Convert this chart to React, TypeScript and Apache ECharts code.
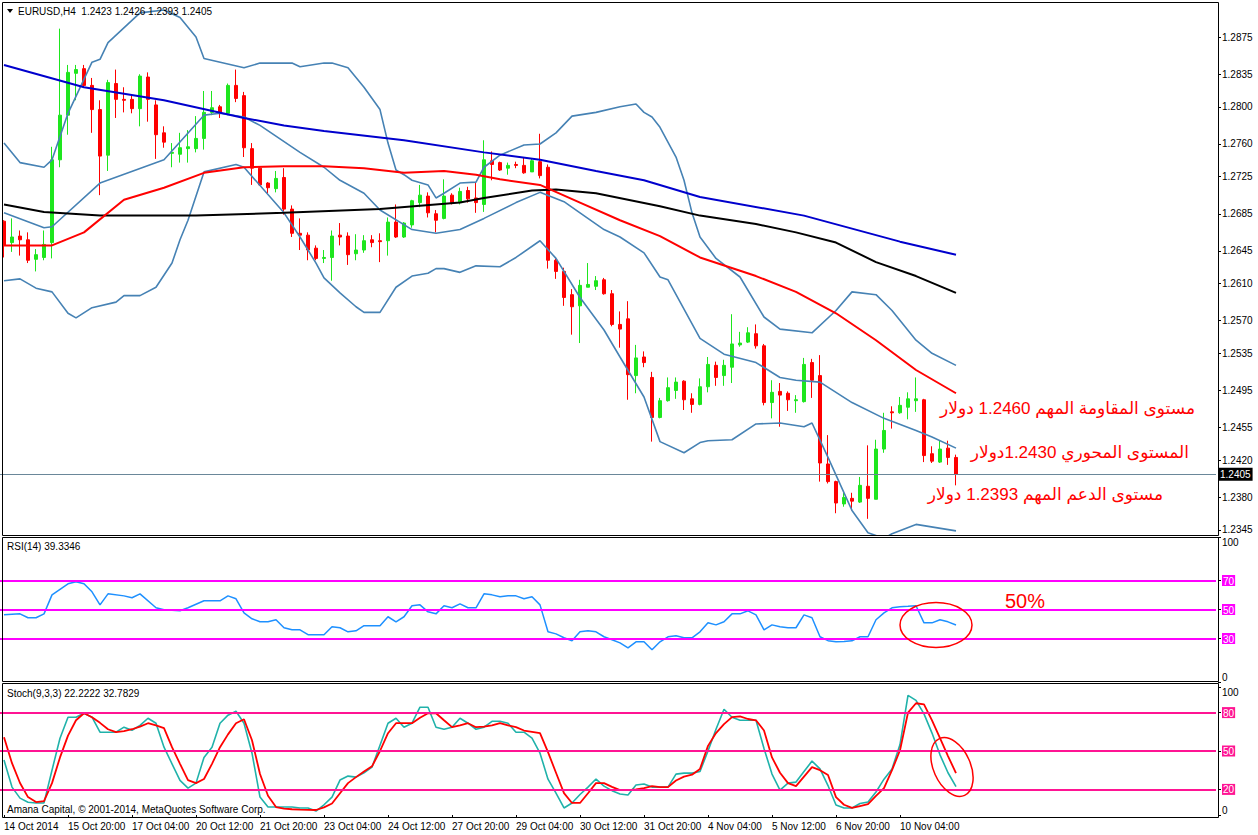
import React, { useEffect, useRef } from "react";
import * as echarts from "echarts";

const FONT = '"Liberation Sans", "DejaVu Sans", Arial, sans-serif';

const symbolTitle = "EURUSD,H4  1.2423 1.2426 1.2393 1.2405";
const rsiTitle = "RSI(14) 39.3346";
const stochTitle = "Stoch(9,3,3) 22.2222 32.7829";
const copyright = "Amana Capital, \u00a9 2001-2014, MetaQuotes Software Corp.";

const totalSlots = 152;
const barSlots = Array.from({ length: totalSlots }, (_, i) => String(i));
const xTickLabels = [
  "14 Oct 2014", "15 Oct 20:00", "17 Oct 04:00", "20 Oct 12:00", "21 Oct 20:00",
  "23 Oct 04:00", "24 Oct 12:00", "27 Oct 20:00", "29 Oct 04:00", "30 Oct 12:00",
  "31 Oct 20:00", "4 Nov 04:00", "5 Nov 12:00", "6 Nov 20:00", "10 Nov 04:00",
];
const priceTicks = [1.2875, 1.2835, 1.28, 1.276, 1.2725, 1.2685, 1.2645, 1.261, 1.257, 1.2535, 1.2495, 1.2455, 1.242, 1.238, 1.2345];
const rsiTicks = [0, 30, 50, 70, 100];
const rsiLevels = [30, 50, 70];
const stochTicks = [0, 20, 50, 80, 100];
const stochLevels = [20, 50, 80];
const lastPrice = 1.2405;

const annotations = [
  "\u0645\u0633\u062a\u0648\u0649 \u0627\u0644\u0645\u0642\u0627\u0648\u0645\u0629 \u0627\u0644\u0645\u0647\u0645 1.2460 \u062f\u0648\u0644\u0627\u0631",
  "\u0627\u0644\u0645\u0633\u062a\u0648\u0649 \u0627\u0644\u0645\u062d\u0648\u0631\u064a 1.2430\u062f\u0648\u0644\u0627\u0631",
  "\u0645\u0633\u062a\u0648\u0649 \u0627\u0644\u062f\u0639\u0645 \u0627\u0644\u0645\u0647\u0645 1.2393 \u062f\u0648\u0644\u0627\u0631",
];
const rsiNote = "50%";

// [open, close, low, high]
const candles = [
  [1.2677, 1.2651, 1.2638, 1.2678], [1.2654, 1.266, 1.2644, 1.268], [1.2661, 1.2657, 1.264, 1.2667],
  [1.2657, 1.2635, 1.2632, 1.2665], [1.2636, 1.2641, 1.2623, 1.2647], [1.2638, 1.2652, 1.2635, 1.2667],
  [1.2654, 1.2743, 1.2637, 1.2757], [1.2743, 1.2791, 1.2735, 1.2884], [1.2791, 1.2837, 1.277, 1.2845],
  [1.2836, 1.284, 1.2807, 1.2845], [1.2841, 1.2823, 1.2821, 1.2845], [1.2823, 1.2797, 1.2772, 1.2831],
  [1.2797, 1.2747, 1.2705, 1.2807], [1.2748, 1.2826, 1.2731, 1.2829], [1.2825, 1.2808, 1.2788, 1.284],
  [1.2808, 1.2807, 1.2794, 1.2821], [1.2808, 1.2798, 1.2793, 1.2813], [1.2798, 1.2833, 1.2779, 1.2835],
  [1.2832, 1.2808, 1.2784, 1.2837], [1.2802, 1.277, 1.2744, 1.2807], [1.2772, 1.2762, 1.2756, 1.2779],
  [1.275, 1.2751, 1.2735, 1.2761], [1.2749, 1.2756, 1.274, 1.2772], [1.2755, 1.2757, 1.274, 1.2775],
  [1.2755, 1.2766, 1.2751, 1.279], [1.2766, 1.2794, 1.2754, 1.2817], [1.2794, 1.2799, 1.2791, 1.2817],
  [1.28, 1.2794, 1.2788, 1.2802], [1.2793, 1.2823, 1.2791, 1.2825], [1.2823, 1.2809, 1.2805, 1.284],
  [1.2812, 1.2756, 1.2746, 1.2816], [1.2755, 1.2734, 1.2716, 1.2761], [1.2734, 1.2716, 1.2715, 1.2735],
  [1.2718, 1.2713, 1.2707, 1.2719], [1.2712, 1.2723, 1.2708, 1.2731], [1.2724, 1.269, 1.2684, 1.2734],
  [1.269, 1.2664, 1.266, 1.2694], [1.2664, 1.2662, 1.2646, 1.268], [1.2662, 1.2646, 1.2635, 1.2665],
  [1.2648, 1.2637, 1.2635, 1.2651], [1.2637, 1.2638, 1.2632, 1.2646], [1.2638, 1.2661, 1.2613, 1.2667],
  [1.2662, 1.266, 1.2651, 1.2675], [1.2661, 1.2641, 1.263, 1.2665], [1.2642, 1.2646, 1.2635, 1.2663],
  [1.2646, 1.2656, 1.2643, 1.2662], [1.2657, 1.2654, 1.2649, 1.2662], [1.2656, 1.2655, 1.2633, 1.2664],
  [1.2656, 1.2676, 1.264, 1.2681], [1.2676, 1.266, 1.2659, 1.2695], [1.266, 1.2675, 1.2659, 1.2676],
  [1.2673, 1.2699, 1.267, 1.27], [1.2697, 1.2705, 1.2692, 1.2716], [1.2704, 1.2686, 1.2681, 1.2708],
  [1.2685, 1.2678, 1.2665, 1.2689], [1.268, 1.2704, 1.2679, 1.2722], [1.2705, 1.2697, 1.2695, 1.2707],
  [1.2697, 1.2709, 1.2695, 1.2713], [1.271, 1.2701, 1.2697, 1.2714], [1.2702, 1.2697, 1.2686, 1.2719],
  [1.2695, 1.2743, 1.2687, 1.2764], [1.2742, 1.2738, 1.2721, 1.2752], [1.274, 1.2732, 1.2731, 1.2741],
  [1.2734, 1.2737, 1.2727, 1.274], [1.2738, 1.2737, 1.2734, 1.2741], [1.2737, 1.2729, 1.2728, 1.2746],
  [1.273, 1.2742, 1.273, 1.2744], [1.2741, 1.2726, 1.2723, 1.2771], [1.2735, 1.2635, 1.2626, 1.2738],
  [1.2635, 1.2623, 1.2615, 1.2637], [1.2623, 1.2595, 1.2586, 1.2627], [1.2598, 1.2585, 1.2555, 1.2604],
  [1.2586, 1.2608, 1.2546, 1.2614], [1.2606, 1.2609, 1.2606, 1.2632], [1.2607, 1.2613, 1.2603, 1.2618],
  [1.2614, 1.2599, 1.2598, 1.2616], [1.2599, 1.2566, 1.2564, 1.2603], [1.2566, 1.2561, 1.2541, 1.258],
  [1.2572, 1.2512, 1.2485, 1.2591], [1.2511, 1.253, 1.2492, 1.2544], [1.2531, 1.2525, 1.252, 1.2537],
  [1.2509, 1.2466, 1.244, 1.2515], [1.2466, 1.2484, 1.2465, 1.2487], [1.2484, 1.2498, 1.2483, 1.2509],
  [1.2495, 1.2504, 1.2486, 1.2509], [1.2505, 1.2485, 1.2474, 1.2506], [1.2486, 1.248, 1.2471, 1.2492],
  [1.248, 1.2499, 1.2479, 1.2508], [1.2499, 1.2523, 1.2493, 1.2531], [1.2522, 1.2509, 1.25, 1.2526],
  [1.2511, 1.2522, 1.25, 1.2528], [1.252, 1.2545, 1.2503, 1.2577], [1.2544, 1.2546, 1.2542, 1.2558],
  [1.2547, 1.2557, 1.2546, 1.2563], [1.2556, 1.2543, 1.254, 1.2566], [1.2543, 1.2482, 1.2479, 1.2545],
  [1.2482, 1.2493, 1.2465, 1.2506], [1.2494, 1.249, 1.2456, 1.2503], [1.2492, 1.2485, 1.2473, 1.2494],
  [1.2484, 1.2485, 1.2471, 1.249], [1.2483, 1.2523, 1.2482, 1.253], [1.2525, 1.2506, 1.2487, 1.2529],
  [1.2511, 1.2417, 1.2397, 1.2533], [1.2416, 1.2397, 1.2395, 1.2447], [1.2397, 1.2374, 1.2363, 1.2398],
  [1.2373, 1.238, 1.237, 1.2385], [1.2379, 1.2376, 1.2366, 1.2385], [1.2375, 1.2393, 1.2374, 1.2402],
  [1.2392, 1.2379, 1.2357, 1.2436], [1.2378, 1.2432, 1.2378, 1.2442], [1.2432, 1.2452, 1.2428, 1.2471],
  [1.2472, 1.2471, 1.2454, 1.2478], [1.2471, 1.2479, 1.247, 1.2488], [1.2477, 1.2486, 1.2464, 1.2493],
  [1.2484, 1.2486, 1.2472, 1.2509], [1.2485, 1.2425, 1.2418, 1.2486], [1.2427, 1.2419, 1.2417, 1.2435],
  [1.2418, 1.2432, 1.2417, 1.2441], [1.2433, 1.2423, 1.2415, 1.2441], [1.2423, 1.2405, 1.2393, 1.2426],
];

// [bar, value] readings of the indicator lines
const maBlue = [[0, 1.2845], [10, 1.2821], [20, 1.2807], [30, 1.2788], [35, 1.278], [40, 1.2774], [50, 1.2764], [60, 1.2751], [67, 1.2743], [74, 1.2731], [80, 1.2721], [87, 1.2703], [100, 1.2683], [112, 1.2655], [119, 1.2641]];
const maBlack = [[0, 1.2695], [5, 1.2687], [12, 1.2683], [24, 1.2683], [35, 1.2686], [47, 1.269], [57, 1.2697], [60, 1.2702], [66, 1.271], [69, 1.2711], [74, 1.2707], [82, 1.2693], [87, 1.2683], [94, 1.2674], [99, 1.2665], [104, 1.2654], [109, 1.2633], [114, 1.2618], [119, 1.26]];
const maRed = [[0, 1.2651], [6, 1.2651], [10, 1.2665], [15, 1.27], [20, 1.2713], [25, 1.2729], [30, 1.2735], [35, 1.2736], [40, 1.2736], [45, 1.2734], [50, 1.2729], [55, 1.2731], [59, 1.2727], [62, 1.2722], [67, 1.2716], [72, 1.2697], [77, 1.2678], [82, 1.2661], [87, 1.2638], [94, 1.2618], [99, 1.2601], [104, 1.2578], [109, 1.2549], [114, 1.2517], [119, 1.2492]];
const bbUpper = [[0, 1.2761], [2, 1.274], [5, 1.2735], [6, 1.2743], [8, 1.2793], [11, 1.2848], [12, 1.2851], [13, 1.2869], [17, 1.2901], [20, 1.2904], [22, 1.2896], [24, 1.2875], [25, 1.2852], [30, 1.2842], [32, 1.2847], [36, 1.2847], [37, 1.2843], [40, 1.2847], [41, 1.2847], [43, 1.2842], [45, 1.2821], [47, 1.2797], [48, 1.2761], [49, 1.2732], [50, 1.2727], [51, 1.2721], [53, 1.2716], [54, 1.2702], [55, 1.2707], [57, 1.2718], [59, 1.2719], [60, 1.2735], [62, 1.2748], [65, 1.2759], [67, 1.276], [69, 1.2772], [71, 1.279], [74, 1.2794], [77, 1.28], [79, 1.2803], [80, 1.2794], [81, 1.2789], [82, 1.2778], [84, 1.2746], [85, 1.2721], [86, 1.2686], [87, 1.266], [89, 1.2637], [92, 1.2617], [95, 1.2574], [97, 1.2561], [101, 1.2557], [104, 1.2581], [106, 1.2601], [109, 1.2598], [111, 1.2581], [114, 1.2549], [116, 1.2535], [119, 1.2522]];
const bbMiddle = [[0, 1.2686], [5, 1.267], [6, 1.2671], [12, 1.2718], [20, 1.2743], [25, 1.2791], [27, 1.2793], [30, 1.2789], [32, 1.278], [37, 1.2751], [40, 1.2735], [42, 1.2721], [45, 1.2707], [47, 1.2689], [51, 1.2668], [54, 1.2664], [57, 1.2668], [60, 1.268], [64, 1.2697], [67, 1.2708], [70, 1.2698], [72, 1.2686], [75, 1.2668], [77, 1.266], [80, 1.2643], [82, 1.2617], [83, 1.2614], [87, 1.2551], [90, 1.2534], [94, 1.2525], [97, 1.2509], [99, 1.2506], [102, 1.2504], [106, 1.2482], [110, 1.2465], [114, 1.2452], [116, 1.2445], [119, 1.2433]];
const bbLower = [[0, 1.2613], [2, 1.2615], [4, 1.2605], [6, 1.2601], [8, 1.2578], [9, 1.2573], [11, 1.2584], [14, 1.259], [15, 1.2597], [17, 1.2597], [19, 1.2606], [21, 1.2632], [22, 1.2657], [23, 1.2678], [25, 1.273], [29, 1.2738], [30, 1.2735], [35, 1.2686], [37, 1.266], [39, 1.2632], [40, 1.2616], [42, 1.26], [44, 1.2585], [45, 1.2579], [47, 1.2579], [49, 1.2606], [51, 1.2618], [53, 1.2621], [54, 1.2626], [55, 1.2626], [57, 1.2622], [59, 1.2629], [62, 1.2628], [64, 1.2638], [67, 1.2656], [69, 1.2637], [72, 1.2595], [75, 1.256], [77, 1.2531], [80, 1.2488], [82, 1.244], [85, 1.2428], [87, 1.2439], [88, 1.2441], [91, 1.2442], [94, 1.2459], [97, 1.246], [100, 1.2456], [101, 1.246], [103, 1.2423], [106, 1.2366], [108, 1.2342], [110, 1.2336], [111, 1.2341], [114, 1.2351], [119, 1.2344]];

const rsi = [[0, 46.3], [2, 47], [3, 44.3], [4, 44.3], [5, 47], [6, 60.1], [8, 67.7], [9, 69.1], [10, 67.7], [11, 62.2], [12, 53.2], [13, 60.8], [15, 59.4], [16, 58.1], [17, 60.8], [19, 51.2], [20, 49.8], [22, 49.1], [23, 51.2], [25, 56], [27, 56], [28, 59.4], [29, 57.4], [30, 47.7], [31, 43.6], [32, 41.5], [33, 41.5], [34, 42.9], [35, 37.4], [36, 36], [37, 36], [38, 32.6], [40, 32.6], [41, 38.1], [42, 37.4], [43, 34.6], [44, 35.3], [45, 38.8], [47, 38.8], [48, 45], [49, 41.5], [50, 45], [51, 52.6], [52, 53.2], [53, 48.4], [54, 47], [55, 52.6], [56, 51.2], [57, 53.9], [58, 51.2], [59, 51.2], [60, 60.8], [61, 60.1], [62, 58.8], [63, 59.4], [64, 59.4], [65, 57.4], [66, 58.8], [67, 53.2], [68, 34.6], [69, 33.2], [70, 30.5], [71, 28.4], [72, 34.6], [73, 35.3], [74, 34.6], [75, 31.2], [76, 29.1], [77, 27], [78, 23.6], [79, 27.7], [80, 27.7], [81, 22.2], [82, 27.7], [83, 31.2], [84, 31.9], [85, 30.5], [86, 30.5], [87, 34.6], [88, 40.8], [89, 39.4], [90, 41.5], [91, 47], [92, 47], [93, 49.1], [94, 46.3], [95, 36], [96, 39.4], [97, 38.1], [98, 37.4], [99, 37.4], [100, 46.3], [101, 44.3], [102, 31.2], [103, 28.5], [104, 27.7], [105, 28], [106, 28.4], [107, 31.2], [108, 31.2], [109, 42.9], [110, 47.7], [111, 51.2], [112, 51.9], [113, 52.2], [114, 52.6], [115, 40.8], [116, 40.8], [117, 42.9], [118, 41.5], [119, 39.3346]];

const stochK = [[0, 42.9], [1, 21.8], [2, 13.2], [3, 10], [4, 9.4], [5, 9.5], [6, 35], [7, 60], [8, 76.4], [9, 76.4], [10, 79.5], [11, 76.4], [12, 64.7], [13, 64.7], [14, 64.7], [15, 68.6], [16, 66.2], [17, 70], [18, 75.6], [19, 71.7], [20, 53], [21, 40], [22, 27], [23, 21], [24, 24.9], [25, 45], [26, 53], [27, 71.7], [28, 78], [29, 81], [30, 71.7], [31, 48.3], [32, 14], [33, 6.2], [34, 6.2], [35, 6.2], [36, 6.2], [37, 5.5], [38, 5.5], [39, 3.1], [40, 8], [41, 14], [42, 27.3], [43, 30.4], [44, 29.6], [45, 33], [46, 37.4], [47, 54.5], [48, 71.7], [49, 75.6], [50, 68.6], [51, 71.7], [52, 84.2], [53, 84.2], [54, 68.6], [55, 67], [56, 68.6], [57, 75.6], [58, 71.7], [59, 67], [60, 68.6], [61, 73.2], [62, 73.2], [63, 71.7], [64, 64.7], [65, 64.7], [66, 60], [67, 48.3], [68, 28], [69, 17.1], [70, 5.5], [71, 9.4], [72, 16], [73, 21.8], [74, 28.1], [75, 22.6], [76, 19], [77, 16.4], [78, 15.6], [79, 23.4], [80, 24.2], [81, 21.8], [82, 21.8], [83, 21.8], [84, 31.9], [85, 32.7], [86, 32.7], [87, 34], [88, 50], [89, 67], [90, 82.6], [91, 76.4], [92, 74], [93, 74], [94, 74], [95, 52], [96, 32], [97, 19.5], [98, 24.9], [99, 25.7], [100, 34], [101, 42.1], [102, 36], [103, 23], [104, 7.8], [105, 5.5], [106, 5.5], [107, 9], [108, 10.1], [109, 18], [110, 28], [111, 36], [112, 55], [113, 93.5], [114, 89.6], [115, 79], [116, 64], [117, 47], [118, 33], [119, 22.2222]];
const stochD = [[0, 60.8], [1, 40.5], [2, 25], [3, 14], [4, 10.1], [5, 10.9], [6, 24.9], [7, 45], [8, 62], [9, 74], [10, 79.5], [11, 76.4], [12, 72], [13, 67], [14, 64.7], [15, 65.5], [16, 67], [17, 69], [18, 71.7], [19, 70], [20, 67.8], [21, 53], [22, 40], [23, 27.3], [24, 24.9], [25, 28.1], [26, 40], [27, 53], [28, 63], [29, 71.7], [30, 74.8], [31, 58.4], [32, 32], [33, 15], [34, 6.2], [35, 5], [36, 4.5], [37, 4.2], [38, 4], [39, 3.9], [40, 6], [41, 9], [42, 17], [43, 24.9], [44, 29.6], [45, 34], [46, 38], [47, 50], [48, 63.9], [49, 71.7], [50, 71.7], [51, 71.7], [52, 76], [53, 79.5], [54, 79.5], [55, 74], [56, 68.6], [57, 70], [58, 71.7], [59, 68.6], [60, 69], [61, 70], [62, 71.7], [63, 70], [64, 68.6], [65, 66], [66, 65], [67, 63.9], [68, 49.1], [69, 33], [70, 17.1], [71, 9.4], [72, 9.4], [73, 17], [74, 24.9], [75, 24.9], [76, 22], [77, 19.5], [78, 19.5], [79, 20], [80, 21], [81, 22.6], [82, 21.8], [83, 21.8], [84, 27], [85, 30], [86, 31.5], [87, 36], [88, 54], [89, 64], [90, 71], [91, 76.5], [92, 77], [93, 75], [94, 74], [95, 66], [96, 45], [97, 33], [98, 24.9], [99, 22.6], [100, 30], [101, 37.4], [102, 35], [103, 31.2], [104, 14], [105, 8], [106, 5.5], [107, 7], [108, 8.5], [109, 15], [110, 21], [111, 35], [112, 50.6], [113, 80], [114, 87.3], [115, 86.5], [116, 74], [117, 60], [118, 46], [119, 32.7829]];

const GREEN = "#1ee61e";
const RED = "#ff0000";
const STEEL = "#4682b4";

function lineSeries(name: string, data: number[][], color: string, width: number, idx: number, extra: any = {}) {
  return {
    type: "line",
    name,
    data,
    xAxisIndex: idx,
    yAxisIndex: idx,
    symbol: "none",
    showSymbol: false,
    silent: true,
    lineStyle: { color, width },
    itemStyle: { color },
    z: 3,
    ...extra,
  };
}

function levelLines(levels: number[], color: string) {
  return {
    silent: true,
    precision: 4,
    symbol: ["none", "none"],
    label: { show: false },
    lineStyle: { color, width: 2, type: "solid" },
    data: levels.map((v) => ({ yAxis: v })),
  };
}

const axisFont = { fontSize: 10, fontFamily: FONT, color: "#000" };

function makeOption() {
  const showTick = (index: number) => index % 8 === 0 && index / 8 < xTickLabels.length;
  const xAxes = [0, 1, 2].map((i) => ({
    type: "category",
    gridIndex: i,
    data: barSlots,
    boundaryGap: true,
    show: i === 2,
    offset: i === 2 ? 2 : 0,
    axisLine: { show: false },
    axisTick: {
      show: true,
      alignWithLabel: true,
      length: 3,
      interval: showTick,
      lineStyle: { color: "#000" },
    },
    axisLabel: {
      ...axisFont,
      align: "left",
      margin: 4,
      interval: showTick,
      formatter: (_v: string, idx: number) => xTickLabels[idx / 8] ?? "",
    },
    splitLine: { show: false },
  }));

  const levelFormatter = (rich: string) => (v: number) =>
    v === 0 || v === 100 ? String(v) : `{${rich}|${v}}`;

  const yAxes = [
    {
      type: "value",
      gridIndex: 0,
      position: "right",
      min: 1.23396,
      max: 1.29116,
      offset: 2,
      axisLine: { show: false },
      axisTick: { show: true, length: 3, customValues: priceTicks, lineStyle: { color: "#000" } },
      axisLabel: { ...axisFont, margin: 4, customValues: priceTicks, formatter: (v: number) => v.toFixed(4) },
      splitLine: { show: false },
    },
    {
      type: "value",
      gridIndex: 1,
      position: "right",
      min: 0,
      max: 100,
      offset: 2,
      axisLine: { show: false },
      axisTick: { show: true, length: 3, customValues: rsiTicks, lineStyle: { color: "#000" } },
      axisLabel: {
        ...axisFont,
        margin: 4,
        customValues: rsiTicks,
        verticalAlignMaxLabel: "top",
        verticalAlignMinLabel: "bottom",
        formatter: levelFormatter("lv"),
        rich: { lv: { backgroundColor: "#ff00ff", color: "#ffffff", fontSize: 10, fontFamily: FONT, padding: [1, 1, 0, 1] } },
      },
      splitLine: { show: false },
    },
    {
      type: "value",
      gridIndex: 2,
      position: "right",
      min: 0,
      max: 100,
      offset: 2,
      axisLine: { show: false },
      axisTick: { show: true, length: 3, customValues: stochTicks, lineStyle: { color: "#000" } },
      axisLabel: {
        ...axisFont,
        margin: 4,
        customValues: stochTicks,
        verticalAlignMaxLabel: "top",
        verticalAlignMinLabel: "bottom",
        formatter: levelFormatter("lv"),
        rich: { lv: { backgroundColor: "#ff1493", color: "#ffffff", fontSize: 10, fontFamily: FONT, padding: [1, 1, 0, 1] } },
      },
      splitLine: { show: false },
    },
  ];

  const txt = (x: number, y: number, text: string, size: number, color: string, align = "left") => ({
    type: "text",
    x,
    y,
    silent: true,
    z: 20,
    style: {
      text,
      fill: color,
      font: `${size}px ${FONT}`,
      textAlign: align,
      textVerticalAlign: "middle",
    },
  });

  const frame = (y: number, h: number) => ({
    type: "rect",
    silent: true,
    z: 15,
    shape: { x: 2.5, y: y + 0.5, width: 1216, height: h },
    style: { fill: "none", stroke: "#000", lineWidth: 1 },
  });

  const graphic = [
    frame(2, 533),
    frame(537, 144),
    frame(683, 134),
    { type: "polygon", silent: true, z: 20, shape: { points: [[7, 9], [13, 9], [10, 13]] }, style: { fill: "#000" } },
    txt(18, 11, symbolTitle, 10, "#000"),
    txt(7, 546, rsiTitle, 10, "#000"),
    txt(7, 693, stochTitle, 10, "#000"),
    txt(7, 809, copyright, 10, "#000"),
    txt(1195, 408, annotations[0], 17, RED, "right"),
    txt(1189, 452, annotations[1], 17, RED, "right"),
    txt(1163, 494, annotations[2], 17, RED, "right"),
    txt(1005, 601, rsiNote, 20, RED),
    {
      type: "ellipse",
      silent: true,
      z: 20,
      x: 936,
      y: 625,
      shape: { cx: 0, cy: 0, rx: 36, ry: 22.5 },
      style: { fill: "none", stroke: RED, lineWidth: 1.5 },
    },
    {
      type: "ellipse",
      silent: true,
      z: 20,
      x: 952,
      y: 767,
      rotation: (24 * Math.PI) / 180,
      shape: { cx: 0, cy: 0, rx: 18.5, ry: 31 },
      style: { fill: "none", stroke: RED, lineWidth: 1.5 },
    },
  ];

  return {
    animation: false,
    backgroundColor: "#ffffff",
    grid: [
      { left: 0, top: 3, width: 1216, height: 532 },
      { left: 0, top: 537, width: 1216, height: 145 },
      { left: 0, top: 687, width: 1216, height: 128 },
    ],
    xAxis: xAxes,
    yAxis: yAxes,
    graphic,
    series: [
      {
        type: "candlestick",
        name: "EURUSD",
        xAxisIndex: 0,
        yAxisIndex: 0,
        data: candles,
        barWidth: 4,
        silent: true,
        z: 2,
        itemStyle: { color: GREEN, color0: RED, borderColor: GREEN, borderColor0: RED, borderWidth: 1 },
        markLine: {
          silent: true,
          precision: 4,
          symbol: ["none", "none"],
          lineStyle: { color: "#6a8799", width: 1, type: "solid" },
          label: {
            show: true,
            position: "end",
            distance: 2,
            formatter: lastPrice.toFixed(4),
            color: "#ffffff",
            backgroundColor: "#000000",
            padding: [2, 2, 1, 2],
            fontSize: 10,
            fontFamily: FONT,
          },
          data: [{ yAxis: lastPrice }],
        },
      },
      lineSeries("BB upper", bbUpper, STEEL, 1.6, 0),
      lineSeries("BB middle", bbMiddle, STEEL, 1.6, 0),
      lineSeries("BB lower", bbLower, STEEL, 1.6, 0),
      lineSeries("MA black", maBlack, "#000000", 2, 0),
      lineSeries("MA red", maRed, RED, 2, 0),
      lineSeries("MA blue", maBlue, "#0000cd", 2, 0),
      lineSeries("RSI", rsi, "#1e90ff", 1.5, 1, { markLine: levelLines(rsiLevels, "#ff00ff") }),
      lineSeries("Stoch %K", stochK, "#20b2aa", 1.6, 2, { markLine: levelLines(stochLevels, "#ff1493") }),
      lineSeries("Stoch %D", stochD, RED, 1.8, 2),
    ],
  };
}

export default function App() {
  const ref = useRef<HTMLDivElement>(null);
  useEffect(() => {
    if (!ref.current) return;
    const chart = echarts.init(ref.current, null, { renderer: "svg" });
    chart.setOption(makeOption() as any);
    return () => chart.dispose();
  }, []);
  return (
    <div
      ref={ref}
      style={{ position: "fixed", left: 0, top: 0, width: 1258, height: 835, background: "#ffffff" }}
    />
  );
}
